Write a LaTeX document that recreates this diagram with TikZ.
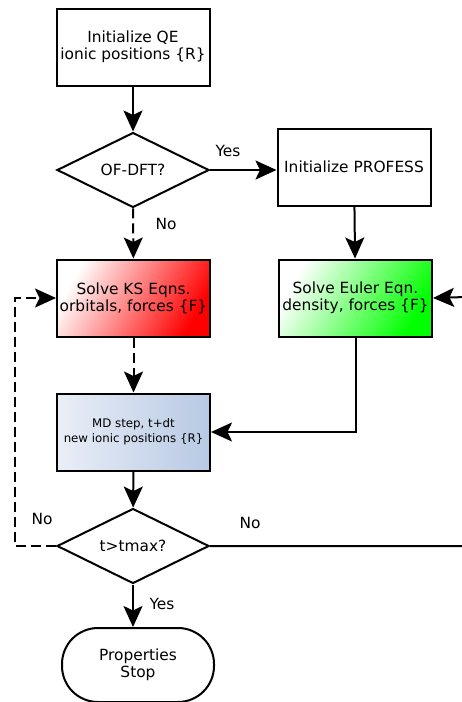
\documentclass[tikz,border=0pt]{standalone}
\usepackage{fontspec}
\setmainfont{DejaVu Sans}
\usepackage{tikz}
\usetikzlibrary{arrows.meta, positioning, shapes.geometric}
\definecolor{kscolor}{RGB}{255,0,0}
\definecolor{eulercolor}{RGB}{0,255,0}
\definecolor{mdleft}{RGB}{234,238,247}
\definecolor{mdright}{RGB}{183,201,227}

\begin{document}
\begin{tikzpicture}[x=1pt,y=-1pt,font=\fontsize{15.4}{17}\selectfont]

                \useasboundingbox (0,0) rectangle (461,702);

                \tikzset{
                % Node styles for the flow chart: blocks, decisions, terminal
                block/.style={rectangle, draw, line width=2pt, minimum width=153, minimum height=77, align=center, inner sep=2},
                decision/.style={diamond, draw, line width=2pt, minimum width=152, minimum height=75, inner sep=0, aspect=2},
                term/.style={rectangle, draw, line width=2pt, rounded corners=36, minimum width=152, minimum height=74, align=center},
                flow/.style={line width=2pt, -{Stealth[length=21pt, width=19pt, inset=4.5pt]}},
                dashflow/.style={flow, dash pattern=on 10pt off 5pt},
                lab/.style={inner sep=0}
                }

                % Left column

                \node at (133,47)[block] (init) {Initialize QE\\ionic positions \{R\}};

                \node at (133,170)[decision] (ofdft) {OF-DFT?};

                \node at (133.5,298)[block, left color=white, right color=kscolor, shading angle=60] (ks) {Solve KS Eqns.\\orbitals, forces \{F\}};

                \node at (133.5,432)[block, left color=mdleft, right color=mdright, font=\fontsize{11.8}{15}\selectfont] (md) {MD step, t+dt\\new ionic positions \{R\}};

                \node at (133,546)[decision] (tmax) {t>tmax?};

                \node at (138,665)[term] (stop) {Properties\\Stop};

                % Right column

                \node at (354,167)[block] (profess) {Initialize PROFESS};

                \node at (355.5,298)[block, left color=white, right color=eulercolor, shading angle=60] (euler) {Solve Euler Eqn.\\density, forces \{F\}};

                \coordinate (loopleft) at (15,546);
                \coordinate (loopright) at (466,546);
                \coordinate (edge) at (466,297);

                % Connectors

                \draw[flow] (init) -- (ofdft);
                \draw[flow] (ofdft.east) -- (ofdft.east -| profess.west);
                \draw[dashflow] (ofdft) -- (ks);
                \draw[flow] (profess) -- (euler);
                \draw[dashflow] (ks) -- (md);
                \draw[flow] (euler.south) |- (md.east);
                \draw[flow] (md) -- (tmax);
                \draw[flow] (tmax.south) -- (tmax.south |- stop.north);
                \draw[dashflow] (tmax.west) -- (loopleft) |- (ks.west);
                \draw[flow] (tmax.east) -- (loopright) -- (edge) -- (euler.east);

                % Labels

                \node at (228,151)[lab] {Yes};
                \node at (166,224)[lab] {No};
                \node at (42,519)[lab] {No};
                \node at (250,523)[lab] {No};
                \node at (162,604)[lab] {Yes};
            \end{tikzpicture}
\end{document}
